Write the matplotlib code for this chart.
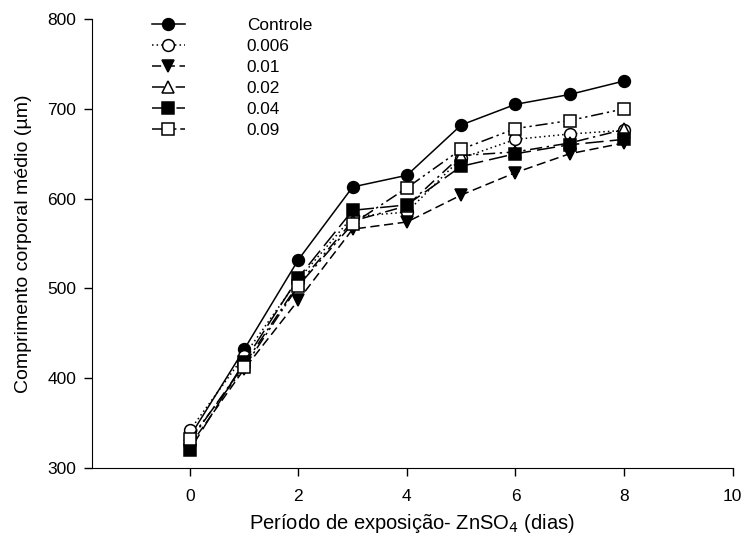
import matplotlib
matplotlib.use("Agg")
import matplotlib.pyplot as plt

plt.rcParams['font.family'] = ['Liberation Sans', 'DejaVu Sans']

dias = [0, 1, 2, 3, 4, 5, 6, 7, 8]
controle = [335, 432, 532, 613, 626, 682, 705, 716, 731]
c0006 = [342, 425, 510, 580, 585, 645, 666, 672, 676]
c001 = [325, 410, 487, 566, 574, 604, 629, 650, 662]
c002 = [330, 415, 505, 575, 592, 648, 652, 662, 677]
c004 = [320, 418, 512, 587, 593, 636, 650, 660, 666]
c009 = [332, 412, 503, 572, 612, 655, 678, 687, 700]
labels = ['Controle', '0.006', '0.01', '0.02', '0.04', '0.09']

series = [controle, c0006, c001, c002, c004, c009]
styles = [
    ('o', 'black', '-'),
    ('o', 'white', (0, (1, 2))),
    ('v', 'black', (0, (6, 3))),
    ('^', 'white', (0, (8, 3, 1.5, 3))),
    ('s', 'black', (0, (12, 4))),
    ('s', 'white', (0, (8, 2.5, 1.5, 2.5, 1.5, 2.5))),
]

fig = plt.figure(figsize=(7.43, 5.44), dpi=100)
ax = fig.add_axes([0.124, 0.1397, 0.862, 0.8253])

for y, lab, (m, fc, ls) in zip(series, labels, styles):
    ax.plot(dias, y, linestyle=ls, color='black', linewidth=1.1,
            marker=m, markersize=8.5, markerfacecolor=fc,
            markeredgecolor='black', markeredgewidth=1.1, label=lab)

ax.set_xlim(-1.8, 10)
ax.set_ylim(300, 800)
ax.set_xticks([0, 2, 4, 6, 8, 10])
ax.set_yticks([300, 400, 500, 600, 700, 800])
ax.spines['top'].set_visible(False)
ax.spines['right'].set_visible(False)
ax.tick_params(direction='out', length=6, width=1, labelsize=12.5, pad=5.5)
ax.tick_params(axis='x', pad=9)

ax.set_xlabel('Período de exposição- ZnSO$_4$ (dias)', fontsize=14.5, labelpad=6)
ax.set_ylabel('Comprimento corporal médio (µm)', fontsize=14, labelpad=11)

ax.legend(loc='upper left', bbox_to_anchor=(152 / 743, 1 - 18 / 544),
          bbox_transform=fig.transFigure, frameon=False, fontsize=12.4,
          handlelength=1.9, handletextpad=3.6, labelspacing=0.35,
          borderpad=0, borderaxespad=0)

fig.savefig('out.png', dpi=100)
